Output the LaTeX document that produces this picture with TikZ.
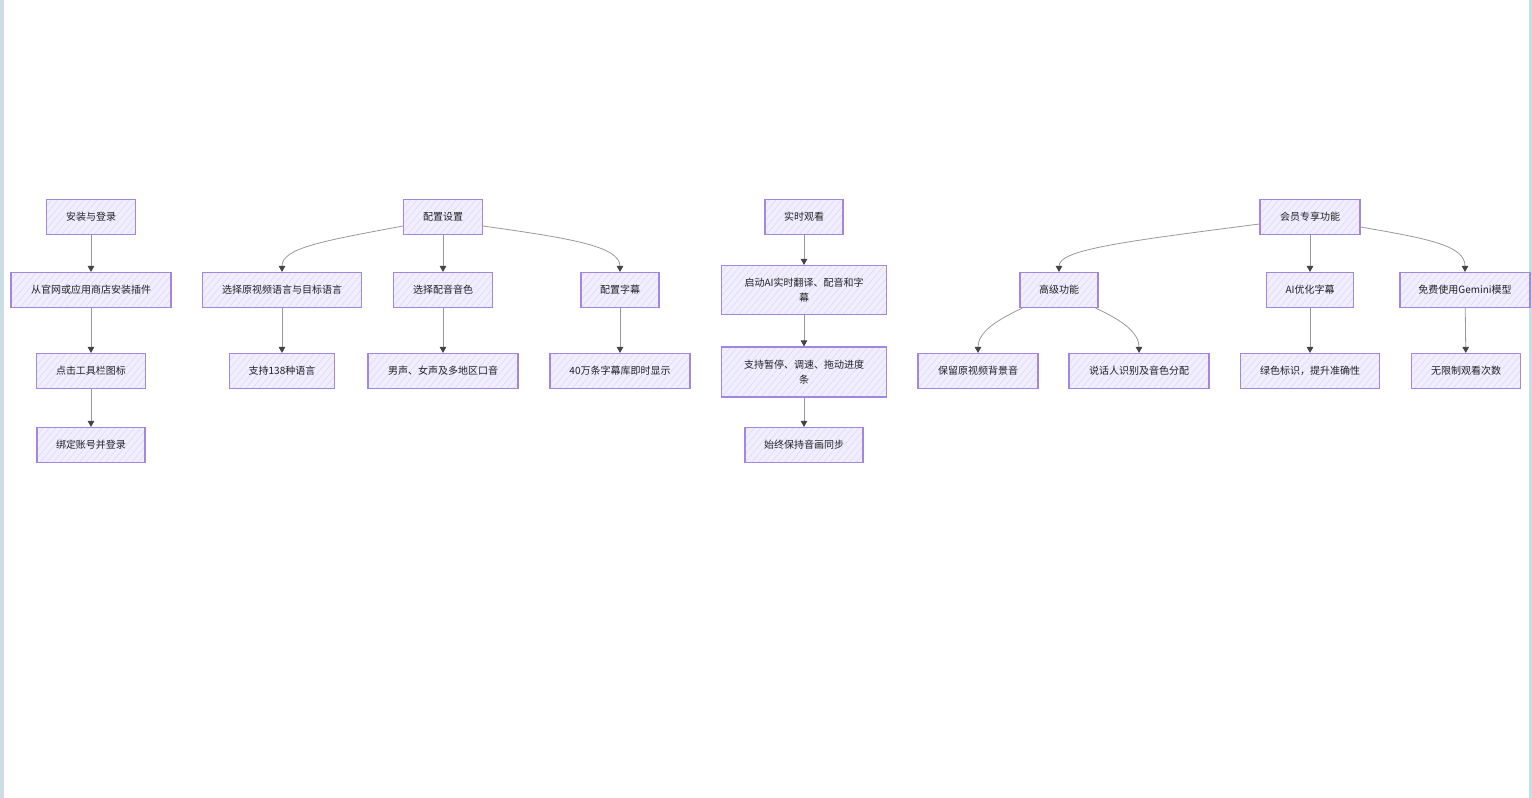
\documentclass[tikz,border=0pt]{standalone}
\usepackage{fontspec}
\newfontfamily\cjk{Noto Sans CJK SC}
\usetikzlibrary{arrows.meta,patterns.meta}
\definecolor{nfill}{HTML}{F1EFFF}
\definecolor{nhatch}{HTML}{E0DAFA}
\definecolor{ndraw}{HTML}{A286E0}
\definecolor{edgec}{HTML}{999999}
\definecolor{tipc}{HTML}{444444}
\definecolor{sidec}{HTML}{C9DEE4}
\definecolor{txt}{HTML}{222222}
\tikzset{
  box/.style={draw=ndraw, line width=1.1pt,
    preaction={fill=nfill},
    preaction={pattern={Lines[angle=50,distance=5pt,line width=0.7pt]}, pattern color=nhatch},
    minimum height=35pt, inner sep=0pt, align=center, text=txt,
    font=\cjk\fontsize{10}{15}\selectfont},
  conn/.style={draw=edgec, line width=0.8pt, -{Triangle[length=6pt,width=6.5pt,color=tipc]}},
}
\begin{document}
\begin{tikzpicture}[x=1pt,y=-1pt]
\useasboundingbox (0,0) rectangle (1532,798);
\fill[white] (0,0) rectangle (1532,798);
\fill[sidec] (0,0) rectangle (4,798);
\fill[sidec] (1529,0) rectangle (1532,798);

% column 1
\node[box, minimum width=89pt] (n1) at (91,217) {安装与登录};
\node[box, minimum width=160pt] (n2) at (91,290) {从官网或应用商店安装插件};
\node[box, minimum width=109pt] (n3) at (91,371) {点击工具栏图标};
\node[box, minimum width=108pt] (n4) at (91,445) {绑定账号并登录};
% column 2
\node[box, minimum width=79pt] (c1) at (443,217) {配置设置};
\node[box, minimum width=159pt] (c2) at (282,290) {选择原视频语言与目标语言};
\node[box, minimum width=99pt] (c3) at (443,290) {选择配音音色};
\node[box, minimum width=78pt] (c4) at (620,290) {配置字幕};
\node[box, minimum width=105pt] (c5) at (282,371) {支持138种语言};
\node[box, minimum width=150pt] (c6) at (443,371) {男声、女声及多地区口音};
\node[box, minimum width=140pt] (c7) at (620,371) {40万条字幕库即时显示};
% column 3
\node[box, minimum width=78pt] (r1) at (804,217) {实时观看};
\node[box, minimum width=165pt, minimum height=49pt] (r2) at (804,290) {启动AI实时翻译、配音和字\\幕};
\node[box, minimum width=165pt, minimum height=50pt] (r3) at (804,372) {支持暂停、调速、拖动进度\\条};
\node[box, minimum width=118pt] (r4) at (804,445) {始终保持音画同步};
% column 4
\node[box, minimum width=100pt] (m1) at (1310,217) {会员专享功能};
\node[box, minimum width=78pt] (m2) at (1059,290) {高级功能};
\node[box, minimum width=87pt] (m3) at (1310,290) {AI优化字幕};
\node[box, minimum width=130pt] (m4) at (1465,290) {免费使用Gemini模型};
\node[box, minimum width=120pt] (m5) at (978,371) {保留原视频背景音};
\node[box, minimum width=140pt] (m6) at (1139,371) {说话人识别及音色分配};
\node[box, minimum width=139pt] (m7) at (1310,371) {绿色标识，提升准确性};
\node[box, minimum width=109pt] (m8) at (1466,371) {无限制观看次数};

% edges
\draw[conn] (n1) -- (n2);
\draw[conn] (n2) -- (n3);
\draw[conn] (n3) -- (n4);

\draw[conn] ([yshift=-9pt]c1.west) .. controls +(-80,15) and +(0,-24) .. (c2.north);
\draw[conn] (c1) -- (c3);
\draw[conn] ([yshift=-9pt]c1.east) .. controls +(85,12) and +(0,-26) .. (c4.north);
\draw[conn] (c2) -- (c5);
\draw[conn] (c3) -- (c6);
\draw[conn] (c4) -- (c7);

\draw[conn] (r1) -- (r2);
\draw[conn] (r2) -- (r3);
\draw[conn] (r3) -- (r4);

\draw[conn] ([yshift=-7pt]m1.west) .. controls +(-140,18) and +(0,-22) .. (m2.north);
\draw[conn] (m1) -- (m3);
\draw[conn] ([yshift=-10pt]m1.east) .. controls +(70,12) and +(0,-26) .. (m4.north);
\draw[conn] ([xshift=3pt]m2.south west) .. controls +(-28,13) and +(0,-20) .. (m5.north);
\draw[conn] ([xshift=-3pt]m2.south east) .. controls +(28,13) and +(0,-20) .. (m6.north);
\draw[conn] (m3) -- (m7);
\draw[conn] (m4) -- (m8);
\end{tikzpicture}
\end{document}
